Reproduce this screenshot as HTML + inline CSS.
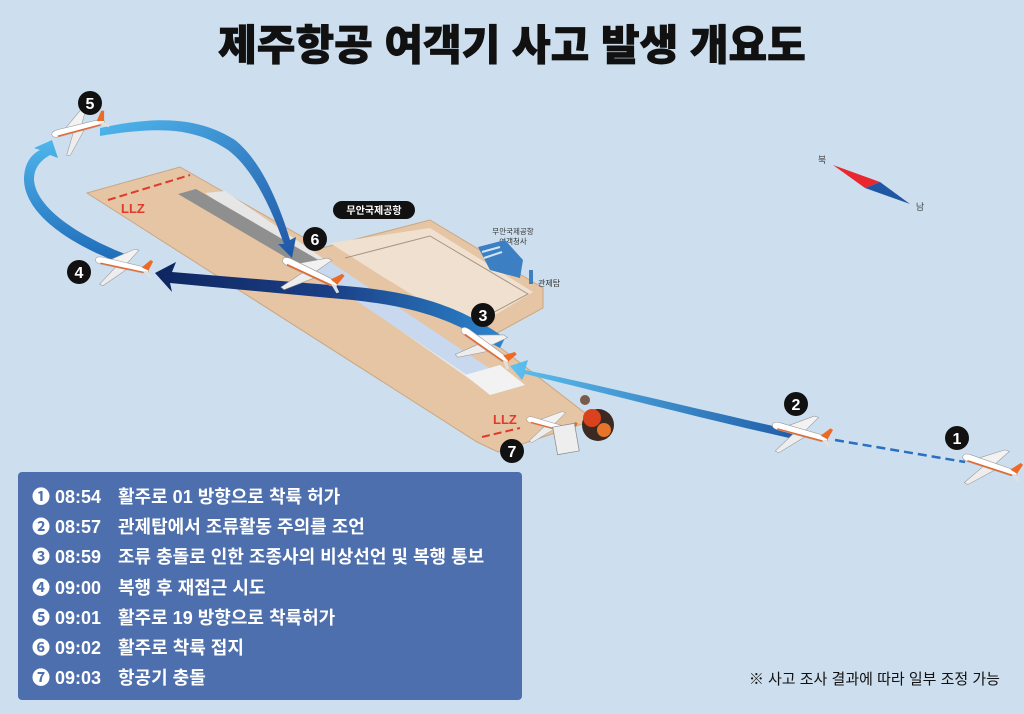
<!DOCTYPE html>
<html><head><meta charset="utf-8"><style>
html,body{margin:0;padding:0;background:#cddfee;}
svg{display:block}
text{font-family:"Liberation Sans","Noto Sans CJK KR",sans-serif;}
</style></head><body>
<svg width="1024" height="714" viewBox="0 0 1024 714" xmlns="http://www.w3.org/2000/svg">
<defs>
<linearGradient id="g23" x1="1" y1="0" x2="0" y2="0"><stop offset="0" stop-color="#1f5ca8"/><stop offset="1" stop-color="#5cc0ef"/></linearGradient>
<linearGradient id="g34" x1="1" y1="0" x2="0" y2="0"><stop offset="0" stop-color="#2b86cf"/><stop offset="0.5" stop-color="#1b3f85"/><stop offset="1" stop-color="#0e2660"/></linearGradient>
<linearGradient id="g45" x1="0" y1="1" x2="0" y2="0"><stop offset="0" stop-color="#1f6ab8"/><stop offset="1" stop-color="#4fb6ec"/></linearGradient>
<linearGradient id="g56" x1="0" y1="0" x2="1" y2="1"><stop offset="0" stop-color="#4fb6ec"/><stop offset="1" stop-color="#1f55a6"/></linearGradient>
<g id="pl">
  <path d="M-14,-3 L10,-20 L15,-20 L4,-1 Z" fill="#f2f2f2" stroke="#999" stroke-width="0.6"/>
  <path d="M-6,3 L-20,26 L-16,27 L6,4 Z" fill="#ededed" stroke="#999" stroke-width="0.6"/>
  <path d="M-30,0 Q-30,-4 -22,-4 L24,-3 L30,-1 L30,2 L24,4 L-22,4 Q-30,4 -30,0Z" fill="#fff" stroke="#999" stroke-width="0.6"/>
  <path d="M-24,3 L24,3 L28,2" stroke="#e8652a" stroke-width="1.5" fill="none"/>
  <path d="M22,-2 L30,-12 L33,-11 L30,0Z" fill="#ec6a25"/>
  <path d="M24,2 L33,8 L35,6 L29,1Z" fill="#e0e0e0"/>
</g>
</defs>
<rect width="1024" height="714" fill="#cddfee"/>
<text x="512" y="60" text-anchor="middle" font-size="42" font-weight="900" fill="#111" stroke="#111" stroke-width="0.8">제주항공 여객기 사고 발생 개요도</text>

<!-- airport -->
<path d="M87,193 L180,167 L322,248 L430,220 L543,288 L543,308 L488,338 L594,420 L498,452 L477,442 Z" fill="#e6c5a4" stroke="#c9a783" stroke-width="1"/>
<path d="M330,243 L430,228 L533,292 L470,330 L380,275 Z" fill="#f0e0d0"/>
<path d="M345,258 L430,236 L528,294 L470,325" fill="none" stroke="#a89583" stroke-width="1"/>
<path d="M205,193 L225,191 L500,380 L478,385 Z" fill="#e6e6e6"/>
<path d="M178,194 L196,189 L322,262 L304,268 Z" fill="#8f8f8f"/>
<path d="M304,266 L326,259 L495,372 L472,378 Z" fill="#c7d8ef"/>
<path d="M465,375 L500,365 L525,385 L490,395 Z" fill="#f2f2f2"/>
<path d="M108,200 L190,175" stroke="#e03a2c" stroke-width="2" stroke-dasharray="8,4"/>
<path d="M482,437 L520,428" stroke="#e03a2c" stroke-width="2" stroke-dasharray="8,4"/>
<text x="121" y="213" font-size="13" font-weight="bold" fill="#e03a2c">LLZ</text>
<text x="493" y="424" font-size="13" font-weight="bold" fill="#e03a2c">LLZ</text>
<rect x="333" y="201" width="82" height="18" rx="9" fill="#111"/>
<text x="374" y="214" text-anchor="middle" font-size="10" font-weight="bold" fill="#fff">무안국제공항</text>
<text x="513" y="234" text-anchor="middle" font-size="7.5" fill="#333">무안국제공항</text>
<text x="513" y="244" text-anchor="middle" font-size="7.5" fill="#333">여객청사</text>
<path d="M478,247 L505,240 L523,260 L520,278 L490,270 Z" fill="#3c7fc2"/>
<path d="M482,252 L500,247 M484,258 L502,252" stroke="#cfe6f8" stroke-width="2"/>
<rect x="529" y="270" width="4" height="14" fill="#3c7fc2"/>
<text x="538" y="286" font-size="8" fill="#333">관제탑</text>

<!-- paths -->
<path d="M835,440 L965,462" stroke="#2a6fc0" stroke-width="2.5" stroke-dasharray="9,5"/>
<path d="M800,432 C700,410 600,385 525,370 L528,360 L510,366 L522,380 L525,374 C600,392 700,418 798,440 Z" fill="url(#g23)"/>
<path d="M500,348 C450,320 420,305 330,298 L170,283 L172,292 L155,273 L176,262 L172,272 L330,285 C420,290 465,310 505,338 Z" fill="url(#g34)"/>
<path d="M120,263 C60,240 25,210 24,180 C24,165 30,155 40,150 L34,148 L52,140 L58,158 L50,155 C38,162 34,170 34,180 C36,205 70,232 125,254 Z" fill="url(#g45)"/>
<path d="M100,128 C160,115 200,118 235,140 C260,160 278,200 290,240 L296,237 L292,258 L278,244 L284,244 C270,205 252,168 228,150 C195,128 160,126 100,136 Z" fill="url(#g56)"/>

<!-- planes -->
<use href="#pl" transform="translate(990,465) rotate(18) scale(0.95)"/>
<use href="#pl" transform="translate(800,432) rotate(15) scale(0.95)"/>
<use href="#pl" transform="translate(485,345) rotate(35) scale(0.95)"/>
<use href="#pl" transform="translate(122,265) rotate(12) scale(0.9)"/>
<use href="#pl" transform="translate(78,128) rotate(-15) scale(0.9)"/>
<use href="#pl" transform="translate(310,272) rotate(25) scale(1.0)"/>
<use href="#pl" transform="translate(550,425) rotate(15) scale(0.8)"/>
<rect x="555" y="425" width="22" height="28" fill="#eee" stroke="#888" stroke-width="0.7" transform="rotate(-10 566 439)"/>
<circle cx="598" cy="425" r="16" fill="#3a2a22"/>
<circle cx="592" cy="418" r="9" fill="#d9421c"/>
<circle cx="604" cy="430" r="7" fill="#e8742a"/>
<circle cx="585" cy="400" r="5" fill="#7a5a4a"/>

<!-- number badges -->
<g font-size="16" font-weight="bold" fill="#fff" text-anchor="middle">
<circle cx="957" cy="438" r="12" fill="#111"/><text x="957" y="444">1</text>
<circle cx="796" cy="404" r="12" fill="#111"/><text x="796" y="410">2</text>
<circle cx="483" cy="315" r="12" fill="#111"/><text x="483" y="321">3</text>
<circle cx="79" cy="272" r="12" fill="#111"/><text x="79" y="278">4</text>
<circle cx="90" cy="103" r="12" fill="#111"/><text x="90" y="109">5</text>
<circle cx="315" cy="239" r="12" fill="#111"/><text x="315" y="245">6</text>
<circle cx="512" cy="451" r="12" fill="#111"/><text x="512" y="457">7</text>
</g>

<!-- compass -->
<path d="M833,165 L880,182 L865,188 Z" fill="#e8272e"/>
<path d="M880,182 L910,204 L865,188 Z" fill="#1f57a4"/>
<text x="822" y="163" font-size="9" fill="#444" text-anchor="middle">북</text>
<text x="920" y="210" font-size="9" fill="#444" text-anchor="middle">남</text>

<!-- legend -->
<rect x="18" y="472" width="504" height="228" rx="4" fill="#4e6fae"/>
<g font-size="18" font-weight="bold" fill="#fff">
<text x="32" y="503">❶ 08:54</text><text x="118" y="503">활주로 01 방향으로 착륙 허가</text>
<text x="32" y="533">❷ 08:57</text><text x="118" y="533">관제탑에서 조류활동 주의를 조언</text>
<text x="32" y="563">❸ 08:59</text><text x="118" y="563">조류 충돌로 인한 조종사의 비상선언 및 복행 통보</text>
<text x="32" y="594">❹ 09:00</text><text x="118" y="594">복행 후 재접근 시도</text>
<text x="32" y="624">❺ 09:01</text><text x="118" y="624">활주로 19 방향으로 착륙허가</text>
<text x="32" y="654">❻ 09:02</text><text x="118" y="654">활주로 착륙 접지</text>
<text x="32" y="684">❼ 09:03</text><text x="118" y="684">항공기 충돌</text>
</g>
<text x="1000" y="684" text-anchor="end" font-size="15" fill="#111">※ 사고 조사 결과에 따라 일부 조정 가능</text>
</svg>
</body></html>
